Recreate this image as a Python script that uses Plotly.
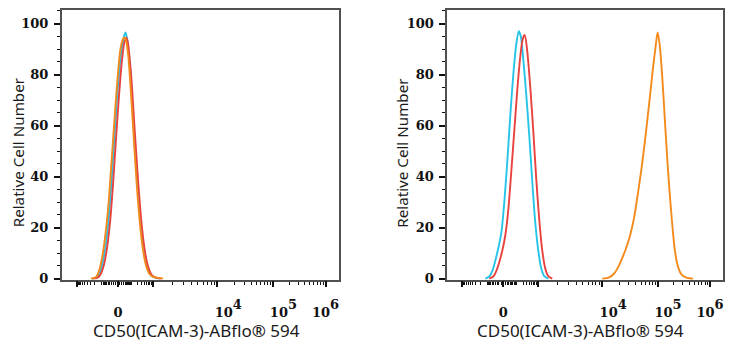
import numpy as np
import plotly.graph_objects as go

# ---------------- data (display-channel x, relative cell number y) ----------------
left_cyan_x = [30, 35, 38, 41, 44, 47, 50, 53, 56, 59, 62, 63.5, 65, 68, 71, 74, 77, 80, 83, 86, 89, 93, 98]
left_cyan_y = [0, 0.5, 2.5, 7, 14, 25, 41, 59, 76, 88, 95, 96.5, 94, 83, 64, 45, 29, 17, 8, 3.5, 1.2, 0.4, 0]

left_red_x = [31, 36, 39, 42, 45, 48, 51, 54, 57, 60, 62.5, 64.5, 66, 69, 72, 75, 78, 81, 84, 87, 90, 94, 99]
left_red_y = [0, 0.4, 2, 5.5, 12, 22, 37, 55, 72, 86, 93, 94.5, 92, 80, 62, 44, 28, 16, 8, 3.5, 1.2, 0.4, 0]

left_orange_x = [29, 34, 37, 40, 43, 46, 49, 52, 55, 58, 60, 62, 63.5, 66, 69, 72, 75, 78, 81, 84, 87, 91, 96, 101]
left_orange_y = [0, 0.6, 3, 8, 16, 27, 43, 60, 76, 89, 93, 94.5, 94, 88, 72, 53, 35, 21, 11, 5, 2, 0.7, 0.3, 0]

right_cyan_x = [38, 42, 45, 48, 51, 54, 57, 60, 63, 66, 69, 71.5, 73.5, 76, 79, 82, 85, 88, 91, 94, 97, 101]
right_cyan_y = [0, 0.8, 3, 7, 12, 18, 30, 46, 64, 80, 92, 97, 95, 86, 72, 56, 38, 22, 11, 4, 1, 0]

right_red_x = [42, 46, 49, 52, 55, 58, 61, 64, 67, 70, 73, 75.5, 77.5, 80, 83, 86, 89, 92, 95, 98, 101, 105]
right_red_y = [0, 0.8, 3, 6.5, 11, 17, 27, 42, 58, 74, 87, 94, 95.5, 89, 75, 58, 39, 23, 11, 4, 1, 0]

right_orange_x = [155, 162, 167, 171, 175, 179, 183, 187, 191, 195, 199, 203, 206, 208.5, 210.5, 212.5, 215, 217.5, 220, 222.5,
                  225, 227.5, 230, 233, 236, 240, 246]
right_orange_y = [0, 0.5, 2, 4.5, 8, 12, 17, 24, 34, 45, 58, 72, 83, 91, 96.5, 92, 80, 64, 48, 34, 22, 12, 6, 2.5, 1, 0.3, 0]

x_tick_labels = ["0",
                 "10<span style='baseline-shift:65%'>4</span>",
                 "10<span style='baseline-shift:65%'>5</span>",
                 "10<span style='baseline-shift:65%'>6</span>"]
x_label_values = [0, 1e4, 1e5, 1e6]
x_label_shift = [0, 11, 10, 0]          # display-channel shift of the printed labels
x_major_values = [-1000, 0, 1000, 1e4, 1e5, 1e6]

y_tick_values = [0, 20, 40, 60, 80, 100]

x_title = "CD50(ICAM-3)-ABflo® 594"
y_title = "Relative Cell Number"

CYAN, RED, ORANGE = "#27c4e8", "#e8423f", "#f28a1c"


# ---------------- axis transform (biexponential-like display) ----------------
def disp(v):
    if v >= 1e5:
        return 211 + 52 * np.log10(v / 1e5)
    if v >= 1e4:
        return 155 + 56 * np.log10(v / 1e4)
    if v >= 1e3:
        return 91 + 64 * np.log10(v / 1e3)
    if v >= 0:
        return 56 + 35 * np.arcsinh(v / 50) / np.arcsinh(1000 / 50)
    return 56 - 41 * np.arcsinh(-v / 50) / np.arcsinh(1000 / 50)


minor_values = ([-v for v in range(100, 1000, 100)] + [-v for v in range(10, 100, 10)] +
                list(range(10, 100, 10)) + list(range(100, 1000, 100)) +
                [k * 1e3 for k in range(2, 10)] + [k * 1e4 for k in range(2, 10)] +
                [k * 1e5 for k in range(2, 10)])

major_pos = [disp(v) for v in x_major_values]
minor_pos = [disp(v) for v in minor_values]
label_pos = [disp(v) + s for v, s in zip(x_label_values, x_label_shift)]

X_RANGE = [0, 276]
Y_RANGE = [-0.6, 105.4]
AX = "#505050"
TICKFONT = dict(family="DejaVu Serif", size=13, color="#111", weight="bold")

fig = go.Figure()

panels = [
    ("x", "y", "x5", [(left_cyan_x, left_cyan_y, CYAN), (left_red_x, left_red_y, RED),
                      (left_orange_x, left_orange_y, ORANGE)]),
    ("x2", "y2", "x6", [(right_cyan_x, right_cyan_y, CYAN), (right_red_x, right_red_y, RED),
                        (right_orange_x, right_orange_y, ORANGE)]),
]
for xa, ya, xo, curves in panels:
    for cx, cy, col in curves:
        fig.add_trace(go.Scatter(x=cx, y=cy, mode="lines", xaxis=xa, yaxis=ya,
                                 line=dict(color=col, width=1.9, shape="spline", smoothing=0.8),
                                 showlegend=False, hoverinfo="skip"))
    fig.add_trace(go.Scatter(x=[], y=[], xaxis=xo, yaxis=ya, showlegend=False))

x_domains = [[62 / 736, 339 / 736], [448 / 736, 724 / 736]]
y_domain = [1 - 285 / 350, 1 - 10 / 350]

layout = dict(width=736, height=350, margin=dict(l=0, r=0, t=0, b=0),
              paper_bgcolor="white", plot_bgcolor="white", showlegend=False)

for i, (xa, ya, xo) in enumerate([("xaxis", "yaxis", "xaxis5"), ("xaxis2", "yaxis2", "xaxis6")]):
    ysuffix = "" if i == 0 else "2"
    xsuffix = "" if i == 0 else "2"
    layout[xa] = dict(domain=x_domains[i], range=X_RANGE, anchor="y" + ysuffix,
                      showline=True, mirror=True, linecolor=AX, linewidth=1.8,
                      showgrid=False, zeroline=False, ticks="",
                      tickmode="array", tickvals=label_pos, ticktext=x_tick_labels,
                      tickfont=TICKFONT, ticklabelstandoff=19,
                      minor=dict(tickmode="array", tickvals=minor_pos, ticks="outside",
                                 ticklen=3, tickwidth=1.2, tickcolor="#111"))
    layout[xo] = dict(domain=x_domains[i], range=X_RANGE, anchor="y" + ysuffix,
                      overlaying="x" + xsuffix, side="bottom",
                      showline=False, showgrid=False, zeroline=False,
                      tickmode="array", tickvals=major_pos, ticks="outside",
                      ticklen=6, tickwidth=1.8, tickcolor="#111", showticklabels=False)
    layout[ya] = dict(domain=y_domain, range=Y_RANGE, anchor="x" + xsuffix,
                      showline=True, mirror=True, linecolor=AX, linewidth=1.8,
                      showgrid=False, zeroline=False,
                      tickmode="array", tickvals=y_tick_values, ticks="outside",
                      ticklen=6, tickwidth=1.8, tickcolor="#111",
                      tickfont=TICKFONT, ticklabelstandoff=3,
                      minor=dict(dtick=5, tick0=0, ticks="outside", ticklen=3,
                                 tickwidth=1.2, tickcolor="#111"))

fig.update_layout(**layout)

XTITLEFONT = dict(family="Noto Sans", size=17, color="#1a1a1a")
YTITLEFONT = dict(family="Noto Sans", size=15.2, color="#1a1a1a")
for cx_px, ytitle_x in [(197, 18), (581, 403)]:
    fig.add_annotation(text=x_title, xref="paper", yref="paper",
                       x=cx_px / 736, y=1 - 336 / 350, xanchor="center", yanchor="middle",
                       showarrow=False, font=XTITLEFONT)
    fig.add_annotation(text=y_title, xref="paper", yref="paper",
                       x=ytitle_x / 736, y=1 - 155 / 350, xanchor="center", yanchor="middle",
                       textangle=-90, showarrow=False, font=YTITLEFONT)

fig.write_html("out.html")
